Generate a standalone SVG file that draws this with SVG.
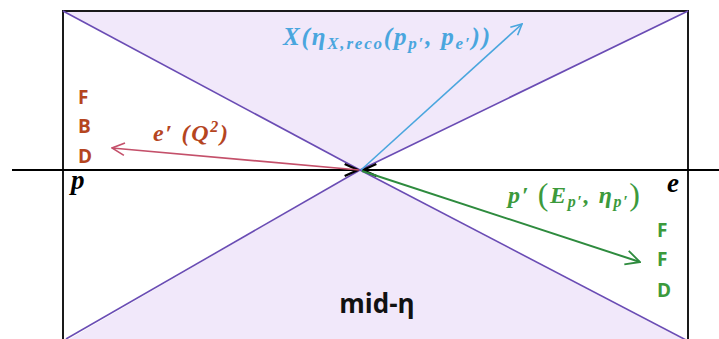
<svg xmlns="http://www.w3.org/2000/svg" width="719" height="339" viewBox="0 0 719 339">
<style>
.diag{stroke:#6a4cb4;stroke-width:1.6;fill:none}
.math{font-family:"Liberation Serif","DejaVu Serif",serif;font-weight:bold;font-style:italic}
.sans{font-family:"Open Sans","Liberation Sans",sans-serif;font-weight:bold}
.red{fill:#b5451f}
.grn{fill:#3c9a3c}
</style>
<defs>
<marker id="hb" viewBox="0 0 12 12" refX="11" refY="6" markerWidth="13" markerHeight="13" markerUnits="userSpaceOnUse" orient="auto"><path d="M1,1 L11,6 L1,11" fill="none" stroke="#4aa6de" stroke-width="1.5"/></marker>
<marker id="hr" viewBox="0 0 12 12" refX="11" refY="6" markerWidth="15" markerHeight="15" markerUnits="userSpaceOnUse" orient="auto"><path d="M1,1 L11,6 L1,11" fill="none" stroke="#c4506a" stroke-width="1.3"/></marker>
<marker id="hg" viewBox="0 0 12 12" refX="11" refY="6" markerWidth="17" markerHeight="17" markerUnits="userSpaceOnUse" orient="auto"><path d="M1,1 L11,6 L1,11" fill="none" stroke="#2e8b3e" stroke-width="1.3"/></marker>
<marker id="hk" viewBox="0 0 12 12" refX="11" refY="6" markerWidth="16" markerHeight="16" markerUnits="userSpaceOnUse" orient="auto"><path d="M1,1.5 L11,6 L1,10.5" fill="none" stroke="#000" stroke-width="1.8"/></marker>
</defs>
<rect width="719" height="339" fill="#fff"/>
<g id="cone-top">
<polygon points="63,11 688,11 360,170" fill="#f1e8fa"/>
</g>
<g id="cone-bottom">
<polygon points="360,170 688,341 66,341" fill="#f1e8fa"/>
</g>
<g id="frame">
<path d="M63,345 L63,11 L688,11 L688,345" fill="none" stroke="#1a1a1a" stroke-width="2"/>
<line class="diag" x1="63" y1="11" x2="360" y2="170"/>
<line class="diag" x1="688" y1="11" x2="360" y2="170"/>
<line class="diag" x1="360" y1="170" x2="66" y2="339"/>
<line class="diag" x1="360" y1="170" x2="688" y2="341"/>
</g>
<g id="connectors">
<line x1="12" y1="170" x2="358" y2="170" stroke="#000" stroke-width="2" marker-end="url(#hk)"/>
<line x1="719" y1="170" x2="363" y2="170" stroke="#000" stroke-width="2" marker-end="url(#hk)"/>
<line x1="361" y1="170" x2="522" y2="24" stroke="#4aa6de" stroke-width="1.6" marker-end="url(#hb)"/>
<line x1="359" y1="170" x2="112" y2="148" stroke="#c4506a" stroke-width="1.6" marker-end="url(#hr)"/>
<line x1="362" y1="171" x2="640" y2="262" stroke="#2e8b3e" stroke-width="2" marker-end="url(#hg)"/>
</g>
<g id="label-x">
<text class="math" x="283" y="45" font-size="25" fill="#4aa6de" textLength="207" lengthAdjust="spacing">X(η<tspan font-size="17" dy="4">X,reco</tspan><tspan dy="-4">(p</tspan><tspan font-size="17" dy="4">p′</tspan><tspan dy="-4">, p</tspan><tspan font-size="17" dy="4">e′</tspan><tspan dy="-4">))</tspan></text>
</g>
<g id="label-e">
<text class="math red" x="153" y="141" font-size="24" textLength="75" lengthAdjust="spacing">e′ (Q<tspan font-size="16" dy="-9">2</tspan><tspan dy="9">)</tspan></text>
</g>
<g id="label-fbd">
<text class="sans red" x="78" y="104" font-size="19">F</text>
<text class="sans red" x="78" y="133" font-size="19">B</text>
<text class="sans red" x="78" y="163" font-size="19">D</text>
</g>
<g id="label-p">
<text class="math" x="71" y="189" font-size="27" fill="#000">p</text>
</g>
<g id="label-ebeam">
<text class="math" x="667" y="192" font-size="27" fill="#000">e</text>
</g>
<g id="label-pprime">
<text class="math grn" x="508" y="203" font-size="24" fill="#3c8a3c" textLength="132" lengthAdjust="spacing">p′ <tspan font-size="32" font-style="normal" font-weight="normal" dy="2">(</tspan><tspan dy="-2">E</tspan><tspan font-size="16" dy="4">p′</tspan><tspan dy="-4">, η</tspan><tspan font-size="16" dy="4">p′</tspan><tspan font-size="32" font-style="normal" font-weight="normal" dy="-2">)</tspan></text>
</g>
<g id="label-ffd">
<text class="sans grn" x="657" y="237" font-size="19">F</text>
<text class="sans grn" x="657" y="266" font-size="19">F</text>
<text class="sans grn" x="657" y="297" font-size="19">D</text>
</g>
<g id="label-mid">
<text class="sans" x="377" y="313" font-size="26" fill="#111" text-anchor="middle">mid-η</text>
</g>
</svg>
